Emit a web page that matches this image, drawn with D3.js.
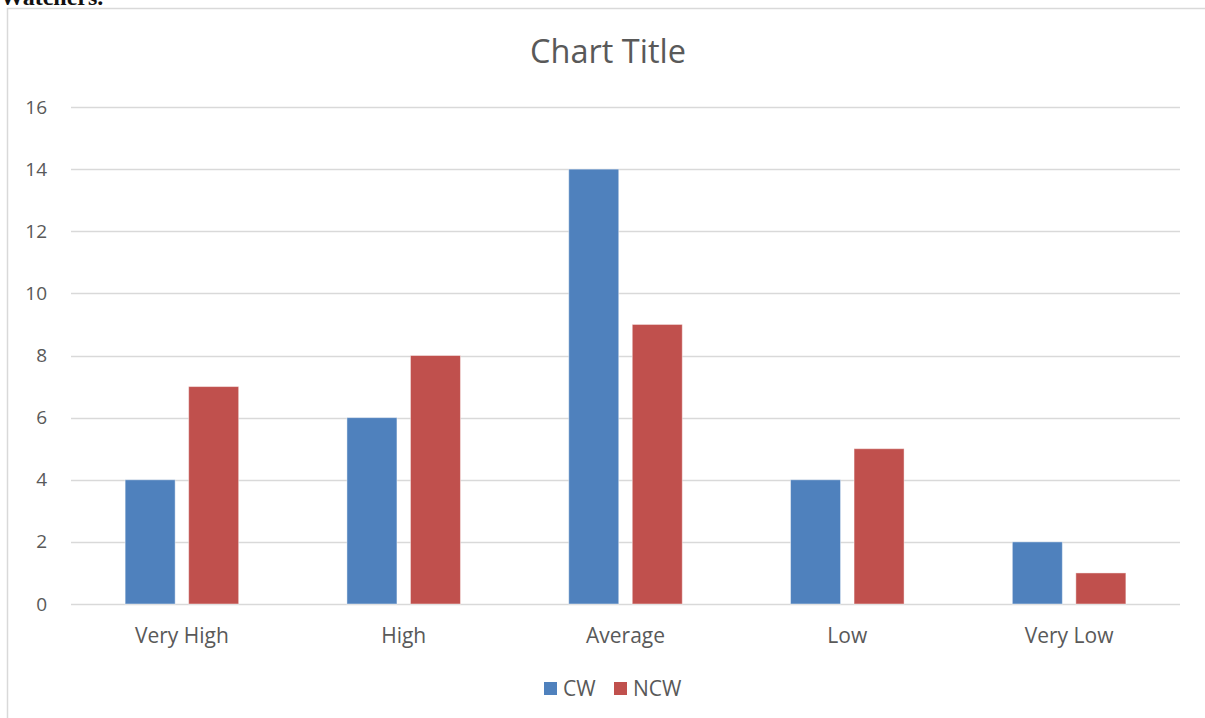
<!DOCTYPE html>
<html>
<head>
<meta charset="utf-8">
<script src="https://cdn.jsdelivr.net/npm/d3@7"></script>
<style>
  html, body { margin: 0; padding: 0; background: #fff; }
  svg { display: block; }
</style>
</head>
<body>
<script>
// Chart data
const categories = ["Very High", "High", "Average", "Low", "Very Low"];
const seriesNames = ["CW", "NCW"];
const cwValues = [4, 6, 14, 4, 2];
const ncwValues = [7, 8, 9, 5, 1];
const yTicks = [0, 2, 4, 6, 8, 10, 12, 14, 16];
const colors = ["#4F81BD", "#C0504D"];

const W = 1205, H = 718;
const font = "'Open Sans', 'Liberation Sans', sans-serif";

const svg = d3.select("body").append("svg")
  .attr("width", W).attr("height", H);

// Text above the chart frame (partially cut off at page top)
svg.append("text")
  .attr("x", 0).attr("y", 5)
  .attr("font-family", "'Liberation Serif', 'DejaVu Serif', serif")
  .attr("font-weight", "bold")
  .attr("font-size", 24)
  .attr("fill", "#111")
  .text("Watchers.");

// Chart frame
svg.append("rect")
  .attr("x", 7.5).attr("y", 8.5)
  .attr("width", W + 20).attr("height", H + 20)
  .attr("fill", "#fff")
  .attr("stroke", "#d9d9d9")
  .attr("stroke-width", 1.5);

const plot = { left: 71, right: 1180, top: 107, bottom: 604 };

const x0 = d3.scaleBand()
  .domain(categories)
  .range([plot.left, plot.right]);

const barW = x0.bandwidth() * 0.2255;
const gap = barW * 0.27;

const y = d3.scaleLinear()
  .domain([0, 16])
  .range([plot.bottom, plot.top]);

// Gridlines
svg.append("g")
  .selectAll("line")
  .data(yTicks)
  .join("line")
  .attr("x1", plot.left).attr("x2", plot.right)
  .attr("y1", d => Math.round(y(d)) + 0.5)
  .attr("y2", d => Math.round(y(d)) + 0.5)
  .attr("stroke", "#d9d9d9")
  .attr("stroke-width", 1.5);

// Y axis labels
const yAxis = d3.axisLeft(y).tickValues(yTicks).tickSize(0).tickPadding(0);
const yg = svg.append("g")
  .attr("transform", `translate(${plot.left - 24},0)`)
  .call(yAxis);
yg.select(".domain").remove();
yg.selectAll("text")
  .attr("font-family", font)
  .attr("font-size", 19)
  .attr("fill", "#595959");

// X axis labels
const xAxis = d3.axisBottom(x0).tickSize(0).tickPadding(0);
const xg = svg.append("g")
  .attr("transform", `translate(0,${plot.bottom + 24})`)
  .call(xAxis);
xg.select(".domain").remove();
xg.selectAll("text")
  .attr("font-family", font)
  .attr("font-size", 21)
  .attr("fill", "#595959");

// Bars
const rows = categories.map((c, i) => ({ cat: c, vals: [cwValues[i], ncwValues[i]] }));
const groups = svg.append("g").selectAll("g")
  .data(rows)
  .join("g")
  .attr("transform", d => `translate(${x0(d.cat) + x0.bandwidth() / 2},0)`);

groups.selectAll("rect")
  .data(d => d.vals.map((v, s) => ({ v, s })))
  .join("rect")
  .attr("x", d => d.s === 0 ? -gap / 2 - barW : gap / 2)
  .attr("width", barW)
  .attr("y", d => y(d.v))
  .attr("height", d => y(0) - y(d.v))
  .attr("fill", d => colors[d.s])
  .attr("stroke", "rgba(255,255,255,0.45)")
  .attr("stroke-width", 1);

// Title
svg.append("text")
  .attr("x", 608).attr("y", 63)
  .attr("text-anchor", "middle")
  .attr("font-family", font)
  .attr("font-size", 32.5)
  .attr("fill", "#595959")
  .text("Chart Title");

// Legend
const legendItems = [
  { name: seriesNames[0], color: colors[0], x: 544 },
  { name: seriesNames[1], color: colors[1], x: 614 }
];
const lg = svg.append("g");
legendItems.forEach(it => {
  lg.append("rect")
    .attr("x", it.x).attr("y", 682)
    .attr("width", 13).attr("height", 13)
    .attr("fill", it.color);
  lg.append("text")
    .attr("x", it.x + 19).attr("y", 696)
    .attr("font-family", font)
    .attr("font-size", 21)
    .attr("fill", "#595959")
    .text(it.name);
});
</script>
</body>
</html>
